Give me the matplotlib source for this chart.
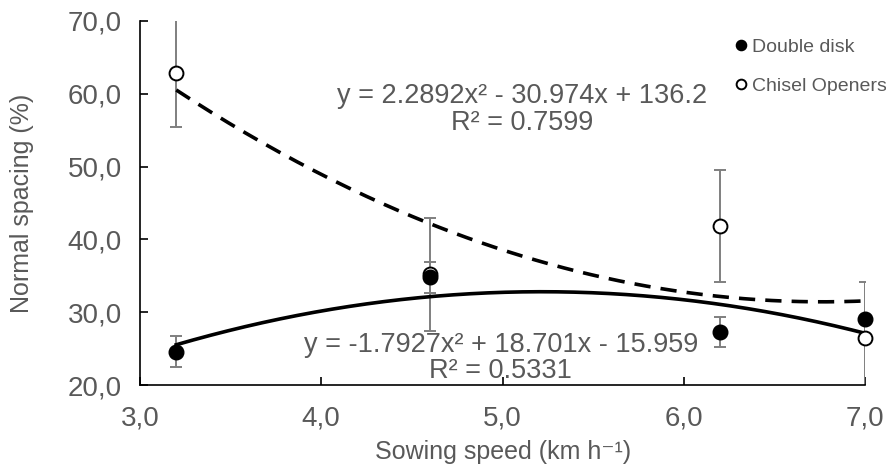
import numpy as np
import matplotlib
matplotlib.use("Agg")
import matplotlib.pyplot as plt

# Data
speed = [3.2, 4.6, 6.2, 7.0]
double_disk = [24.6, 34.8, 27.3, 29.1]
double_disk_err = [2.1, 2.1, 2.1, 0.0]
chisel = [62.8, 35.2, 41.8, 26.4]
chisel_err = [7.4, 7.8, 7.7, 7.8]

# Trendline coefficients (as printed on the chart)
chisel_coef = [2.2892, -30.974, 136.2]
disk_coef = [-1.7927, 18.701, -15.959]

x_ticks = [3.0, 4.0, 5.0, 6.0, 7.0]
y_ticks = [20.0, 30.0, 40.0, 50.0, 60.0, 70.0]

TXT = "#595959"
plt.rcParams['font.family'] = ['Liberation Sans', 'DejaVu Sans']

fig = plt.figure(figsize=(8.87, 4.65), dpi=100)
ax = fig.add_axes([140/887, 1-385/465, (865-140)/887, (385-21)/465])

xs = np.linspace(min(speed), max(speed), 200)
ax.plot(xs, np.polyval(chisel_coef, xs), color='black', lw=2.6, ls=(0, (4.5, 2.8)), zorder=3)
ax.plot(xs, np.polyval(disk_coef, xs), color='black', lw=2.6, zorder=3)

ax.errorbar(speed, chisel, yerr=chisel_err, fmt='none', ecolor='#7f7f7f', elinewidth=1.4,
            capsize=4.5, capthick=1.4, zorder=2)
ax.errorbar(speed, double_disk, yerr=double_disk_err, fmt='none', ecolor='#7f7f7f', elinewidth=1.4,
            capsize=4.5, capthick=1.4, zorder=2)
ax.plot(speed, chisel, 'o', ms=10, mfc='white', mec='black', mew=1.4, ls='none', zorder=4,
        label='Chisel Openers', clip_on=False)
ax.plot(speed, double_disk, 'o', ms=10.5, mfc='black', mec='black', ls='none', zorder=5,
        label='Double disk', clip_on=False)

ax.set_xlim(3.0, 7.0)
ax.set_ylim(20.0, 70.0)
ax.set_xticks(x_ticks)
ax.set_xticklabels([f"{v:.1f}".replace('.', ',') for v in x_ticks])
ax.set_yticks(y_ticks)
ax.set_yticklabels([f"{v:.1f}".replace('.', ',') for v in y_ticks])
ax.tick_params(direction='in', length=6, width=1.2, labelsize=20, colors='black', labelcolor=TXT)
ax.tick_params(axis='x', pad=15)
ax.tick_params(axis='y', pad=13)
ax.spines['top'].set_visible(False)
ax.spines['right'].set_visible(False)
for s in ('left', 'bottom'):
    ax.spines[s].set_linewidth(1.2)

ax.set_xlabel('Sowing speed (km h⁻¹)', fontsize=18, color=TXT)
ax.xaxis.set_label_coords(0.5007, -(440-385)/364)
ax.set_ylabel('Normal spacing (%)', fontsize=18, color=TXT)
ax.yaxis.set_label_coords((34-140)/725, 0.5)

ax.text(5.11, 57.9, 'y = 2.2892x² - 30.974x + 136.2\nR² = 0.7599', ha='center', va='center',
        fontsize=19.5, color=TXT, linespacing=1.05, zorder=6)
ax.text(4.99, 23.7, 'y = -1.7927x² + 18.701x - 15.959\nR² = 0.5331', ha='center', va='center',
        fontsize=19.5, color=TXT, linespacing=1.0, zorder=6)

h, l = ax.get_legend_handles_labels()
leg = ax.legend(h[::-1], l[::-1], loc='upper left', bbox_to_anchor=(735/887, 1-38/465),
                bbox_transform=fig.transFigure, frameon=False, fontsize=14, labelcolor=TXT,
                handlelength=0.6, handletextpad=0.3, markerscale=0.7, labelspacing=1.1,
                borderaxespad=0, borderpad=0)

fig.savefig('out.png', dpi=100)
